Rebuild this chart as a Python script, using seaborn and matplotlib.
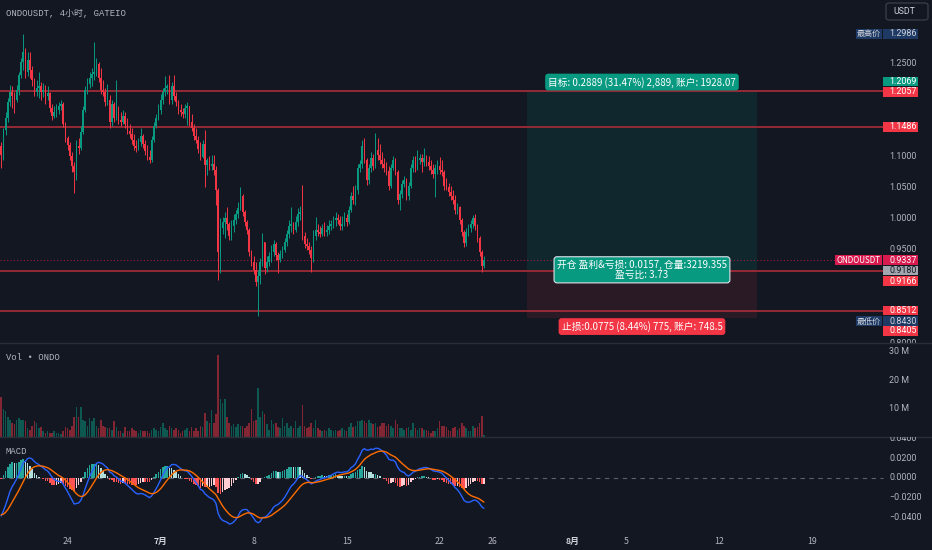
import numpy as np
import matplotlib
matplotlib.use('Agg')
import matplotlib.pyplot as plt
import matplotlib.transforms as mtransforms
from matplotlib.patches import Rectangle, FancyBboxPatch
import seaborn as sns

# ------------------------------------------------------------------ #
#  Data (ONDOUSDT, 4h candles, 19 Jun - 25 Jul)    #
# ------------------------------------------------------------------ #

first_open = 1.118

closes = [
    1.103, 1.144, 1.163, 1.189, 1.205, 1.198, 1.192, 1.208, 1.232, 1.253,
    1.269, 1.237, 1.256, 1.240, 1.224, 1.205, 1.211, 1.215, 1.205, 1.208,
    1.198, 1.203, 1.179, 1.166, 1.173, 1.176, 1.182, 1.186, 1.153, 1.131,
    1.119, 1.102, 1.086, 1.076, 1.118, 1.115, 1.140, 1.176, 1.208, 1.218,
    1.227, 1.234, 1.237, 1.250, 1.227, 1.208, 1.205, 1.189, 1.192, 1.156,
    1.186, 1.163, 1.173, 1.160, 1.156, 1.166, 1.153, 1.142, 1.137, 1.127,
    1.118, 1.115, 1.124, 1.134, 1.121, 1.110, 1.100, 1.095, 1.127, 1.150,
    1.163, 1.176, 1.192, 1.205, 1.211, 1.215, 1.192, 1.215, 1.198, 1.189,
    1.176, 1.173, 1.169, 1.179, 1.182, 1.156, 1.147, 1.134, 1.127, 1.113,
    1.100, 1.121, 1.087, 1.095, 1.086, 1.089, 1.079, 1.047, 0.947, 0.986,
    0.995, 1.002, 0.992, 0.973, 0.989, 0.998, 1.008, 1.018, 1.037, 1.011,
    0.995, 0.982, 0.947, 0.931, 0.918, 0.898, 0.908, 0.931, 0.963, 0.921,
    0.931, 0.940, 0.947, 0.960, 0.942, 0.934, 0.944, 0.950, 0.963, 0.976,
    0.989, 0.992, 0.982, 0.995, 1.008, 1.011, 0.973, 0.960, 0.956, 0.950,
    0.937, 0.973, 0.982, 0.979, 0.976, 0.986, 0.979, 0.982, 0.989, 0.992,
    0.998, 1.002, 0.998, 0.989, 0.992, 1.002, 0.995, 1.015, 1.037, 1.031,
    1.047, 1.082, 1.089, 1.118, 1.095, 1.063, 1.082, 1.098, 1.086, 1.111,
    1.103, 1.095, 1.089, 1.082, 1.077, 1.053, 1.082, 1.095, 1.076, 1.031,
    1.040, 1.056, 1.063, 1.037, 1.053, 1.082, 1.095, 1.082, 1.095, 1.098,
    1.092, 1.098, 1.092, 1.086, 1.079, 1.073, 1.082, 1.086, 1.079, 1.076,
    1.053, 1.052, 1.044, 1.037, 1.031, 1.015, 1.019, 0.998, 0.979, 0.961,
    0.979, 0.986, 0.992, 1.002, 0.989, 0.969, 0.947, 0.924, 0.9337,
]

highs = [
    1.124, 1.147, 1.173, 1.195, 1.216, 1.215, 1.205, 1.216, 1.237, 1.260,
    1.2986, 1.276, 1.269, 1.269, 1.247, 1.227, 1.224, 1.237, 1.221, 1.219,
    1.216, 1.215, 1.205, 1.186, 1.182, 1.186, 1.189, 1.192, 1.189, 1.156,
    1.134, 1.124, 1.108, 1.092, 1.127, 1.131, 1.150, 1.182, 1.215, 1.227,
    1.237, 1.244, 1.286, 1.260, 1.253, 1.244, 1.224, 1.211, 1.218, 1.200,
    1.192, 1.189, 1.224, 1.182, 1.173, 1.176, 1.173, 1.163, 1.153, 1.147,
    1.137, 1.127, 1.131, 1.147, 1.137, 1.127, 1.119, 1.111, 1.134, 1.156,
    1.169, 1.186, 1.202, 1.211, 1.231, 1.218, 1.232, 1.221, 1.232, 1.205,
    1.192, 1.186, 1.179, 1.186, 1.189, 1.179, 1.169, 1.153, 1.147, 1.134,
    1.124, 1.127, 1.143, 1.098, 1.102, 1.103, 1.103, 1.086, 1.050, 1.002,
    1.003, 1.011, 1.019, 0.995, 0.998, 1.008, 1.015, 1.027, 1.052, 1.040,
    1.015, 0.998, 0.986, 0.950, 0.940, 0.931, 0.918, 0.937, 0.977, 0.963,
    0.940, 0.947, 0.958, 0.966, 0.963, 0.947, 0.950, 0.956, 0.969, 0.982,
    0.998, 1.019, 0.995, 1.005, 1.018, 1.021, 1.055, 0.979, 0.969, 0.963,
    0.956, 0.982, 1.003, 0.992, 0.989, 0.992, 0.995, 0.990, 0.998, 0.998,
    1.005, 1.011, 1.008, 1.005, 1.005, 1.011, 1.008, 1.021, 1.044, 1.053,
    1.055, 1.089, 1.095, 1.127, 1.131, 1.098, 1.089, 1.108, 1.105, 1.139,
    1.131, 1.121, 1.108, 1.098, 1.092, 1.086, 1.089, 1.102, 1.098, 1.079,
    1.047, 1.063, 1.069, 1.066, 1.060, 1.089, 1.102, 1.102, 1.111, 1.105,
    1.105, 1.115, 1.103, 1.102, 1.095, 1.089, 1.089, 1.095, 1.100, 1.095,
    1.079, 1.066, 1.058, 1.053, 1.047, 1.039, 1.026, 1.021, 1.002, 0.982,
    0.986, 0.992, 0.998, 1.006, 1.008, 0.992, 0.973, 0.950, 0.940,
]

lows = [
    1.082, 1.095, 1.136, 1.156, 1.182, 1.179, 1.171, 1.189, 1.200, 1.227,
    1.240, 1.227, 1.231, 1.227, 1.215, 1.198, 1.198, 1.195, 1.192, 1.197,
    1.186, 1.192, 1.173, 1.160, 1.163, 1.165, 1.169, 1.176, 1.148, 1.124,
    1.111, 1.095, 1.076, 1.042, 1.063, 1.105, 1.111, 1.137, 1.173, 1.202,
    1.211, 1.215, 1.224, 1.231, 1.221, 1.202, 1.198, 1.182, 1.184, 1.147,
    1.150, 1.156, 1.160, 1.153, 1.150, 1.153, 1.147, 1.137, 1.131, 1.121,
    1.111, 1.108, 1.111, 1.118, 1.115, 1.103, 1.095, 1.090, 1.092, 1.124,
    1.147, 1.160, 1.169, 1.186, 1.198, 1.202, 1.186, 1.186, 1.192, 1.182,
    1.169, 1.166, 1.163, 1.163, 1.152, 1.150, 1.142, 1.127, 1.123, 1.106,
    1.095, 1.098, 1.052, 1.071, 1.079, 1.079, 1.071, 1.023, 0.902, 0.913,
    0.975, 0.969, 0.982, 0.966, 0.966, 0.979, 0.992, 1.002, 1.015, 1.005,
    0.989, 0.976, 0.940, 0.924, 0.911, 0.892, 0.8430, 0.895, 0.924, 0.911,
    0.915, 0.924, 0.931, 0.940, 0.934, 0.913, 0.931, 0.937, 0.947, 0.956,
    0.969, 0.979, 0.976, 0.979, 0.989, 0.998, 0.966, 0.953, 0.950, 0.943,
    0.915, 0.931, 0.966, 0.973, 0.971, 0.973, 0.973, 0.973, 0.976, 0.982,
    0.986, 0.989, 0.992, 0.982, 0.982, 0.989, 0.989, 0.992, 1.011, 1.024,
    1.023, 1.040, 1.076, 1.082, 1.090, 1.055, 1.056, 1.076, 1.079, 1.082,
    1.095, 1.089, 1.082, 1.076, 1.071, 1.047, 1.050, 1.079, 1.071, 1.024,
    1.015, 1.034, 1.052, 1.031, 1.031, 1.050, 1.076, 1.076, 1.079, 1.089,
    1.076, 1.086, 1.086, 1.079, 1.073, 1.066, 1.036, 1.073, 1.073, 1.069,
    1.047, 1.047, 1.037, 1.031, 1.024, 1.008, 1.008, 0.992, 0.973, 0.955,
    0.956, 0.973, 0.979, 0.986, 0.982, 0.963, 0.940, 0.915, 0.921,
]

# volume in millions of ONDO
volumes_m = [
    14, 10, 9, 7, 6, 5, 4.5, 6, 6.5, 6,
    6, 5.5, 3, 2.5, 4, 5.5, 5, 3, 3.5, 2,
    1.5, 2, 1.5, 1.5, 2, 1.5, 1.5, 1, 2, 3.5,
    3, 2.5, 4, 7, 10.5, 7, 10.5, 6, 5.5, 4,
    6.5, 5.5, 6.5, 4, 3, 6, 4, 3.5, 3, 3,
    2.5, 5.5, 3.5, 2, 2, 1.5, 3.5, 2, 2, 3,
    2.5, 2, 1.5, 2.5, 2, 2, 2, 1.5, 2.5, 3,
    2.5, 2, 3.5, 5, 3, 2.5, 4, 3, 2.5, 3,
    2.5, 1.5, 2, 2.5, 3, 2, 3.5, 2, 3, 2,
    4, 3.5, 8.5, 5.5, 5, 9.5, 5, 8, 28.8, 13.4,
    12, 13.4, 7, 5, 4, 4.5, 3.5, 4.5, 4, 4,
    3, 4, 5, 9.9, 5.5, 6, 17.2, 7, 9.3, 8,
    4.5, 2.5, 6, 4.5, 5, 3.5, 3, 6.5, 4, 5,
    3, 4, 3, 5.5, 3, 4, 11.3, 4, 3, 3.5,
    5, 3, 6, 3, 2.5, 2, 2.5, 2, 3, 2.5,
    2, 2.5, 2, 2.5, 3, 2.5, 2, 3.5, 5, 3.5,
    4, 5.5, 5.5, 6, 5.5, 5, 6, 5, 4.5, 5,
    3.5, 4, 5, 5, 4, 4.5, 4, 3, 6, 4.5,
    3, 3, 2.5, 3, 3.5, 2.5, 5, 3, 2.5, 3,
    3, 2.5, 2.5, 2, 1.5, 2, 2, 3, 5.5, 4,
    4, 3.5, 2.5, 2, 3, 3.5, 2.5, 3, 5, 4,
    3, 2, 2, 4, 3, 3.5, 5, 7.2, 0.8,
]

# EMA state carried in from before the visible window
macd_fast_seed = 1.120
macd_slow_seed = 1.160
macd_signal_seed = -0.037

date_ticks = [30, 72, 114, 156, 198, 222, 258, 282, 324, 366]   # candle index of each date
date_labels = ['24', '7月', '8', '15', '22', '26', '8月', '5', '12', '19']

drawn_levels = [1.2057, 1.1486, 0.9166, 0.8512]
last_price = 0.9337
entry_price = 0.9180
target_price = 1.2069
stop_price = 0.8405
high_price = 1.2986
low_price = 0.8430

# scale labels not hidden behind a price tag
price_ticks = [1.25, 1.10, 1.05, 1.00, 0.95, 0.80]
vol_ticks = [10, 20, 30]
macd_ticks = [0.04, 0.02, 0.0, -0.02, -0.04]

target_text = '目标: 0.2889 (31.47%) 2,889, 账户: 1928.07'
entry_text = '开仓 盈利&亏损: 0.0157, 仓量:3219.355\n盈亏比: 3.73'
stop_text = '止损:0.0775 (8.44%) 775, 账户: 748.5'

# ------------------------------------------------------------------ #
#  Style                                                              #
# ------------------------------------------------------------------ #

BG = '#131722'
GREEN = '#089981'
RED = '#f23645'
TEXT = '#b2b5be'
LINE_RED = '#9e2b37'
CUR_RED = '#d81b4f'
BLUE_TAG = '#1e3a64'
SEP = '#2a2e39'

sns.set_theme(style='dark', rc={'axes.facecolor': BG, 'figure.facecolor': BG})
plt.rcParams['font.family'] = ['Roboto', 'Noto Sans CJK SC', 'DejaVu Sans']
plt.rcParams['axes.unicode_minus'] = True
CJK = ['Noto Sans CJK SC', 'DejaVu Sans']
MONO = ['Liberation Mono', 'Noto Sans CJK SC', 'DejaVu Sans']

W, H = 932, 550
XMIN, XMAX = -0.5, 420.3
BOX_X0, BOX_X1 = 237.4, 341.3      # long position tool, in candle index units
SCALE_FS = 6.4

# ------------------------------------------------------------------ #
#  Derived series                                                     #
# ------------------------------------------------------------------ #

idx = np.arange(len(closes))
close = np.array(closes)
opens = np.concatenate([[first_open], close[:-1]])
high = np.maximum(np.array(highs), np.maximum(opens, close))
low = np.minimum(np.array(lows), np.minimum(opens, close))
up = close >= opens

fast, slow, sig = macd_fast_seed, macd_slow_seed, macd_signal_seed
macd, signal = [], []
for c in close:
    fast = fast + 2 / 13 * (c - fast)
    slow = slow + 2 / 27 * (c - slow)
    m = fast - slow
    sig = sig + 2 / 10 * (m - sig)
    macd.append(m)
    signal.append(sig)
macd = np.array(macd)
signal = np.array(signal)
hist = macd - signal
prev = np.concatenate([[hist[0]], hist[:-1]])
hist_colors = np.where(hist >= 0,
                       np.where(hist >= prev, '#26a69a', '#b2dfdb'),
                       np.where(hist <= prev, '#ff5252', '#ffcdd2'))

# ------------------------------------------------------------------ #
#  Figure and panes                                                   #
# ------------------------------------------------------------------ #

fig = plt.figure(figsize=(W / 100, H / 100), dpi=100, facecolor=BG)


def make_pane(top_px, bottom_px, ylim):
    ax = fig.add_axes([0, 1 - bottom_px / H, 1, (bottom_px - top_px) / H])
    ax.set_facecolor(BG)
    ax.set_xlim(XMIN, XMAX)
    ax.set_ylim(*ylim)
    ax.set_xticks([])
    ax.set_yticks([])
    ax.grid(False)
    for side in ['left', 'right', 'bottom', 'top']:
        ax.spines[side].set_visible(False)
    return ax


ax_p = make_pane(0, 343, (0.8000, 1.3532))
ax_v = make_pane(343, 437, (0, 33.0))
ax_m = make_pane(437, 527, (-0.0495, 0.0414))
for ax in (ax_v, ax_m):
    ax.spines['top'].set_visible(True)
    ax.spines['top'].set_color(SEP)
    ax.spines['top'].set_linewidth(1)


def blend(ax):
    return mtransforms.blended_transform_factory(ax.transAxes, ax.transData)


def axis_labels(ax, values, texts):
    for v, t in zip(values, texts):
        ax.text(889 / W, v, t, transform=blend(ax), color=TEXT, fontsize=SCALE_FS,
                ha='left', va='center', zorder=5, clip_on=True)


def price_tag(ax, value, text, fc, tc, shift_px=0.0, x0=883, x1=918):
    ymin, ymax = ax.get_ylim()
    ppu = ax.bbox.height / (ymax - ymin)
    yc = value - shift_px / ppu
    h = 9.8 / ppu
    ax.add_patch(Rectangle((x0 / W, yc - h / 2), (x1 - x0) / W, h,
                           transform=blend(ax), fc=fc, ec='none', zorder=10, clip_on=False))
    if x1 == 918:
        ax.text(889 / W, yc, text, transform=blend(ax), color=tc, fontsize=SCALE_FS,
                ha='left', va='center', zorder=11)
    else:
        ax.text((x0 + x1) / 2 / W, yc, text, transform=blend(ax), color=tc, fontsize=5.8,
                ha='center', va='center', zorder=11, family=CJK)


# --- price pane ---
body_h = np.maximum(np.abs(close - opens), 0.0008)
body_b = np.minimum(close, opens)
candle_colors = np.where(up, GREEN, RED)
ax_p.vlines(idx, low, high, colors=candle_colors, lw=0.7, zorder=3)
ax_p.bar(idx, body_h, bottom=body_b, width=0.7, color=candle_colors, lw=0, zorder=4)

ax_p.add_patch(Rectangle((BOX_X0, entry_price), BOX_X1 - BOX_X0, target_price - entry_price,
                         fc=GREEN, alpha=0.13, ec='none', zorder=1))
ax_p.add_patch(Rectangle((BOX_X0, stop_price), BOX_X1 - BOX_X0, entry_price - stop_price,
                         fc=RED, alpha=0.10, ec='none', zorder=1))

for lv in drawn_levels:
    ax_p.axhline(lv, xmin=0, xmax=883 / W, color=LINE_RED, lw=1.3, zorder=2)
ax_p.axhline(last_price, xmin=0, xmax=835 / W, color=CUR_RED, lw=0.8, alpha=0.7,
             ls=(0, (1, 2)), zorder=2)

axis_labels(ax_p, price_ticks, [f'{v:.4f}' for v in price_ticks])

box_mid = (BOX_X0 + BOX_X1) / 2
ax_p.annotate(target_text, xy=(box_mid, target_price), xytext=(0, 2.3), textcoords='offset points',
              ha='center', va='bottom', fontsize=7, color='white', family=CJK, zorder=12,
              bbox=dict(boxstyle='round,pad=0.3,rounding_size=0.3', fc=GREEN, ec='none'))
ax_p.annotate(entry_text, xy=(box_mid, entry_price), xytext=(0, 0), textcoords='offset points',
              ha='center', va='center', fontsize=7, color='white', family=CJK, zorder=12,
              linespacing=1.0, multialignment='center',
              bbox=dict(boxstyle='round,pad=0.3,rounding_size=0.3', fc=GREEN, ec='#e0e3eb', lw=0.8))
ax_p.annotate(stop_text, xy=(box_mid, stop_price), xytext=(0, -2.3), textcoords='offset points',
              ha='center', va='top', fontsize=7, color='white', family=CJK, zorder=12,
              bbox=dict(boxstyle='round,pad=0.3,rounding_size=0.3', fc=RED, ec='none'))

price_tag(ax_p, high_price, f'{high_price:.4f}', BLUE_TAG, '#d1d4dc')
price_tag(ax_p, high_price, '最高价', BLUE_TAG, '#d1d4dc', x0=856, x1=882)
price_tag(ax_p, target_price, f'{target_price:.4f}', GREEN, 'white', shift_px=-9.2)
price_tag(ax_p, drawn_levels[0], f'{drawn_levels[0]:.4f}', RED, 'white', shift_px=0.5)
price_tag(ax_p, drawn_levels[1], f'{drawn_levels[1]:.4f}', RED, 'white')
price_tag(ax_p, last_price, f'{last_price:.4f}', CUR_RED, 'white')
price_tag(ax_p, last_price, 'ONDOUSDT', CUR_RED, 'white', x0=835, x1=882)
price_tag(ax_p, entry_price, f'{entry_price:.4f}', '#a3a6af', BG, shift_px=0.7)
price_tag(ax_p, drawn_levels[2], f'{drawn_levels[2]:.4f}', RED, 'white', shift_px=10.3)
price_tag(ax_p, drawn_levels[3], f'{drawn_levels[3]:.4f}', RED, 'white', shift_px=-0.8)
price_tag(ax_p, low_price, f'{low_price:.4f}', BLUE_TAG, '#d1d4dc', shift_px=4.7)
price_tag(ax_p, low_price, '最低价', BLUE_TAG, '#d1d4dc', shift_px=4.7, x0=856, x1=882)
price_tag(ax_p, stop_price, f'{stop_price:.4f}', RED, 'white', shift_px=13.1)

ax_p.text(6 / W, 1 - 13 / 343, 'ONDOUSDT, 4小时, GATEIO', transform=ax_p.transAxes,
          color=TEXT, fontsize=6.4, family=MONO, ha='left', va='center')

# --- volume pane ---
vol_colors = np.where(up, GREEN, RED)
ax_v.bar(idx, volumes_m, width=0.7, color=vol_colors, alpha=0.5, lw=0)
axis_labels(ax_v, vol_ticks, [f'{v} M' for v in vol_ticks])
ax_v.text(6 / W, 1 - 15 / 94, 'Vol • ONDO', transform=ax_v.transAxes,
          color=TEXT, fontsize=6.4, family=MONO, ha='left', va='center')

# --- MACD pane ---
ax_m.axhline(0, xmin=0, xmax=883 / W, color='#5d606b', lw=0.8, ls=(0, (4, 4)), zorder=1)
ax_m.bar(idx, hist, width=0.7, color=hist_colors, lw=0, zorder=2)
sns.lineplot(x=idx, y=macd, ax=ax_m, color='#2962ff', linewidth=1.0, zorder=3)
sns.lineplot(x=idx, y=signal, ax=ax_m, color='#ff6d00', linewidth=1.0, zorder=3)
ax_m.set_xlim(XMIN, XMAX)
ax_m.set_ylim(-0.0495, 0.0414)
ax_m.set_xlabel('')
ax_m.set_ylabel('')
ax_m.set_xticks([])
ax_m.set_yticks([])
axis_labels(ax_m, macd_ticks, [f'{v:.4f}'.replace('-', '−') for v in macd_ticks])
ax_m.text(6 / W, 1 - 14 / 90, 'MACD', transform=ax_m.transAxes,
          color=TEXT, fontsize=6.4, family=MONO, ha='left', va='center')

# --- date axis ---
date_tr = mtransforms.blended_transform_factory(ax_m.transData, ax_m.transAxes)
for x, lab in zip(date_ticks, date_labels):
    month = lab.endswith('月')
    ax_m.text(x, -(541 - 527) / 90, lab, transform=date_tr, ha='center', va='center',
              fontsize=6.3, color='#d1d4dc' if month else TEXT,
              fontweight='bold' if month else 'normal', family=CJK, clip_on=False)

# --- currency button ---
fig.add_artist(FancyBboxPatch((886 / W, 1 - 20 / H), 42 / W, 17 / H,
                              boxstyle='round,pad=0,rounding_size=0.004',
                              transform=fig.transFigure, fc=BG, ec='#363a45', lw=1))
fig.text(893 / W, 1 - 11.5 / H, 'USDT', color='#d1d4dc', fontsize=6.3, ha='left', va='center')

fig.savefig('out.png', dpi=100, facecolor=BG)
